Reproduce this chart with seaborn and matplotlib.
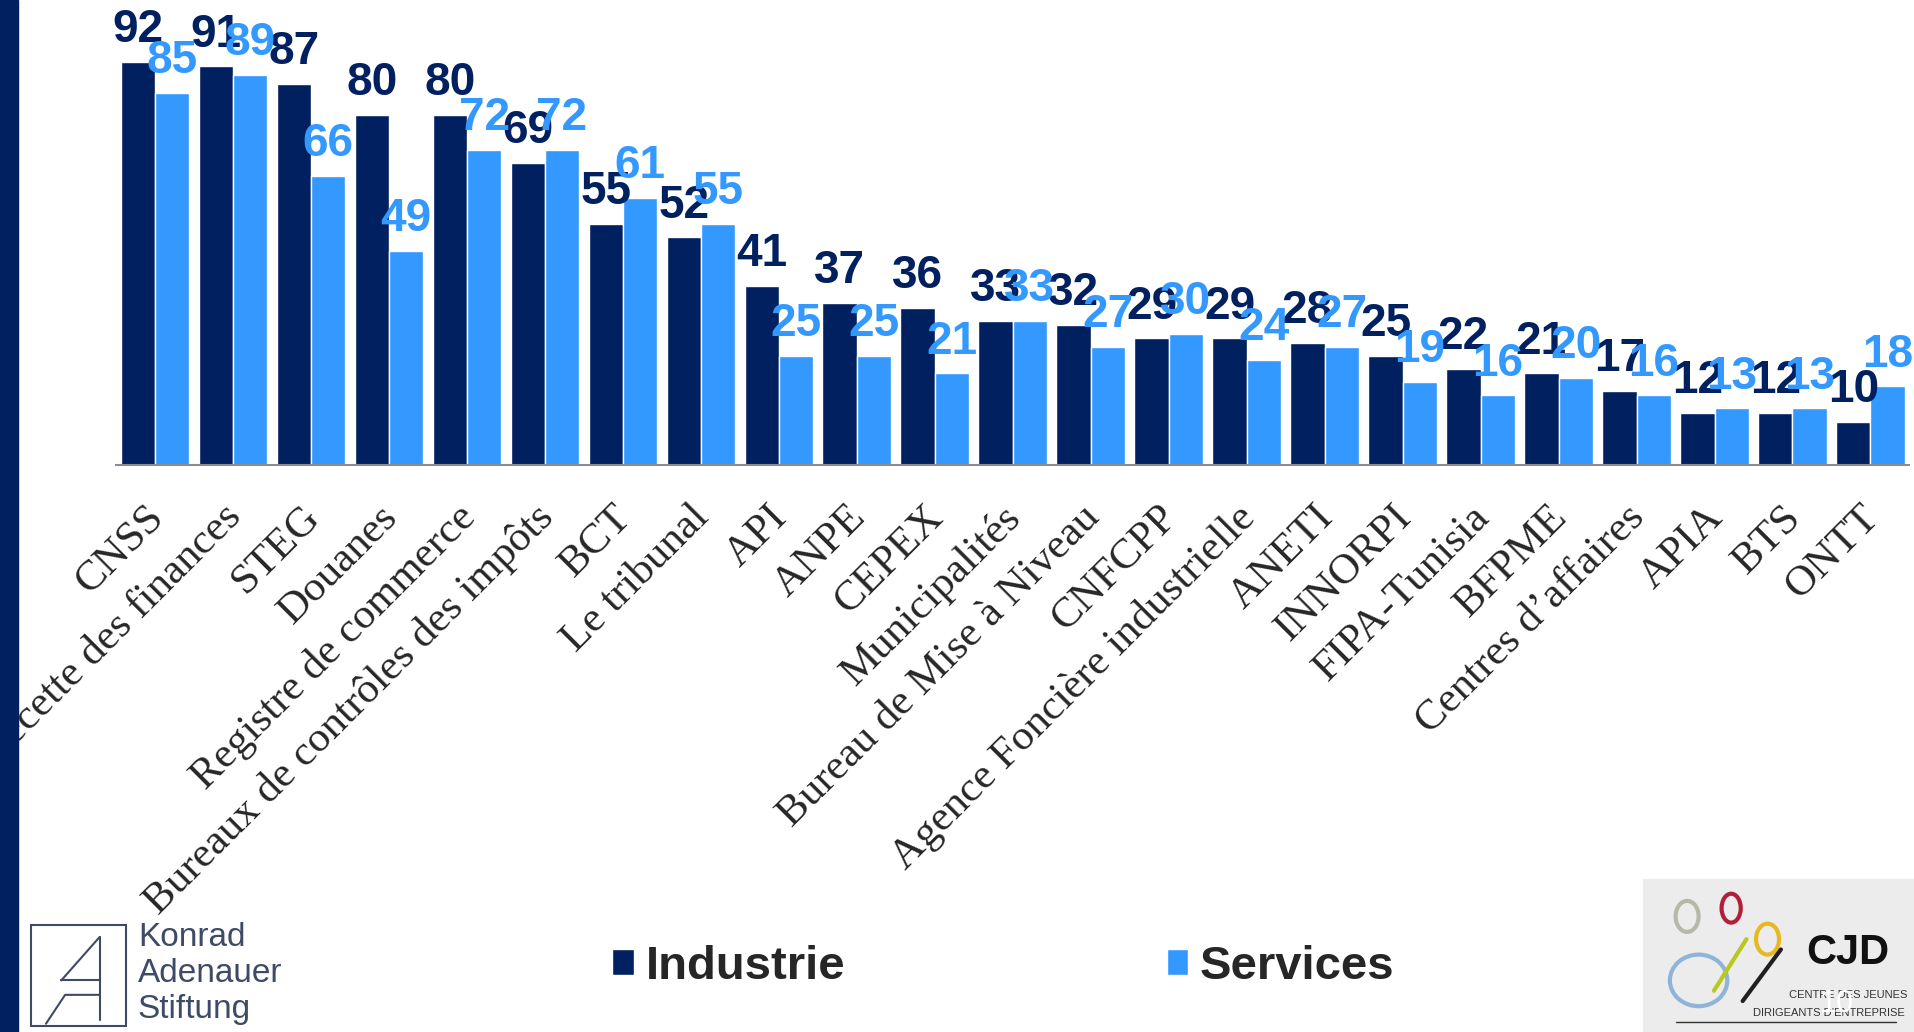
import pandas as pd
import seaborn as sns
import matplotlib.pyplot as plt
from matplotlib.patches import Rectangle, Ellipse
from matplotlib.transforms import ScaledTranslation

# données (en %)
categories = ['CNSS', 'Recette des finances', 'STEG', 'Douanes', 'Registre de commerce',
              'Bureaux de contrôles des impôts', 'BCT', 'Le tribunal', 'API', 'ANPE', 'CEPEX',
              'Municipalités', 'Bureau de Mise à Niveau', 'CNFCPP', 'Agence Foncière industrielle',
              'ANETI', 'INNORPI', 'FIPA-Tunisia', 'BFPME', 'Centres d’affaires', 'APIA', 'BTS', 'ONTT']
industrie = [92, 91, 87, 80, 80, 69, 55, 52, 41, 37, 36, 33, 32, 29, 29, 28, 25, 22, 21, 17, 12, 12, 10]
services = [85, 89, 66, 49, 72, 72, 61, 55, 25, 25, 21, 33, 27, 30, 24, 27, 19, 16, 20, 16, 13, 13, 18]
series = ['Industrie', 'Services']

navy = '#002060'
light = '#3399FF'

df = pd.DataFrame({
    'organisme': categories * 2,
    'valeur': industrie + services,
    'secteur': [series[0]] * len(categories) + [series[1]] * len(categories),
})

sns.set_style('white')
plt.rcParams['font.family'] = ['Liberation Sans', 'DejaVu Sans']

fig = plt.figure(figsize=(19.15, 10.32), dpi=100)
ax = fig.add_axes([0.0606, 0.549, 0.9365, 0.425])

sns.barplot(data=df, x='organisme', y='valeur', hue='secteur', palette=[navy, light],
            saturation=1, width=0.88, gap=0, ax=ax)

ax.set_ylim(0, 100)
ax.set_xlim(-0.5, len(categories) - 0.5)
ax.set_xlabel('')
ax.set_ylabel('')
ax.set_yticks([])
for s in ['top', 'right', 'left']:
    ax.spines[s].set_visible(False)
ax.spines['bottom'].set_color('#8c8c8c')
ax.spines['bottom'].set_linewidth(1.5)

ax.set_xticks(range(len(categories)))
ax.set_xticklabels(categories, rotation=45, ha='right', rotation_mode='anchor',
                   fontsize=31, family=['Liberation Serif', 'DejaVu Serif'])
ax.tick_params(axis='x', which='major', length=0, pad=14)
ax.set_xticks([i - 0.5 for i in range(len(categories) + 1)], minor=True)
ax.tick_params(axis='x', which='minor', length=11, width=1.5, color='#8c8c8c', direction='out')
# léger décalage vers le bas-gauche des étiquettes
shift = ScaledTranslation(-0.11, -0.13, fig.dpi_scale_trans)
for lab in ax.get_xticklabels():
    lab.set_transform(lab.get_transform() + shift)

for cont, col in zip(ax.containers, [navy, light]):
    ax.bar_label(cont, padding=7, color=col, fontsize=33, fontweight='bold',
                 family=['Liberation Sans Narrow', 'Liberation Sans'])

sns.move_legend(ax, 'center', bbox_to_anchor=(0.524, 0.063), bbox_transform=fig.transFigure,
                ncol=2, frameon=False, title=None, prop={'weight': 'bold', 'size': 34},
                handlelength=0.45, handleheight=0.45, handletextpad=0.26, columnspacing=6.8)

# bande bleue à gauche
fig.add_artist(Rectangle((0, 0), 0.0095, 1, transform=fig.transFigure, color=navy, zorder=10))

# logo Konrad Adenauer Stiftung (approximation)
kc = '#3e4a66'
fig.add_artist(Rectangle((0.016, 0.006), 0.05, 0.098, transform=fig.transFigure,
                         fill=False, edgecolor=kc, lw=1.5))
fig.add_artist(plt.Line2D([0.052, 0.052], [0.012, 0.092], transform=fig.transFigure, color=kc, lw=1.5))
fig.add_artist(plt.Line2D([0.032, 0.052], [0.05, 0.092], transform=fig.transFigure, color=kc, lw=1.5))
fig.add_artist(plt.Line2D([0.032, 0.052], [0.05, 0.05], transform=fig.transFigure, color=kc, lw=1.5))
fig.add_artist(plt.Line2D([0.024, 0.034, 0.052], [0.008, 0.036, 0.036], transform=fig.transFigure, color=kc, lw=1.5))
for i, t in enumerate(['Konrad', 'Adenauer', 'Stiftung']):
    fig.text(0.072, 0.092 - i * 0.035, t, fontsize=24, color=kc, va='center',
             family=['Liberation Sans Narrow', 'Liberation Sans'])

# logo CJD (approximation)
fig.add_artist(Rectangle((0.858, 0), 0.142, 0.148, transform=fig.transFigure, color='#ececec', zorder=1))
for (x, y, w, h, c) in [(0.881, 0.112, 0.012, 0.03, '#b8b8a8'), (0.904, 0.12, 0.01, 0.028, '#b0203a'),
                        (0.923, 0.09, 0.012, 0.03, '#e8b820'), (0.887, 0.05, 0.03, 0.05, '#8fb4d8')]:
    fig.add_artist(Ellipse((x, y), w, h, transform=fig.transFigure, fill=False, edgecolor=c, lw=3, zorder=2))
fig.add_artist(plt.Line2D([0.895, 0.912], [0.04, 0.09], transform=fig.transFigure, color='#b8c820', lw=3, zorder=2))
fig.add_artist(plt.Line2D([0.91, 0.93], [0.03, 0.08], transform=fig.transFigure, color='#202020', lw=3, zorder=2))
fig.text(0.965, 0.077, 'CJD', fontsize=30, fontweight='bold', color='#111111', ha='center', va='center', zorder=3)
fig.text(0.965, 0.036, 'CENTRE DES JEUNES', fontsize=8, color='#333333', ha='center', va='center', zorder=3)
fig.text(0.955, 0.018, 'DIRIGEANTS D’ENTREPRISE', fontsize=8, color='#333333', ha='center', va='center', zorder=3)
fig.add_artist(plt.Line2D([0.875, 0.99], [0.01, 0.01], transform=fig.transFigure, color='#333333', lw=1, zorder=3))
fig.text(0.959, 0.027, '10', fontsize=22, color='white', ha='center', va='center', zorder=4)

fig.savefig('out.png', dpi=100)
